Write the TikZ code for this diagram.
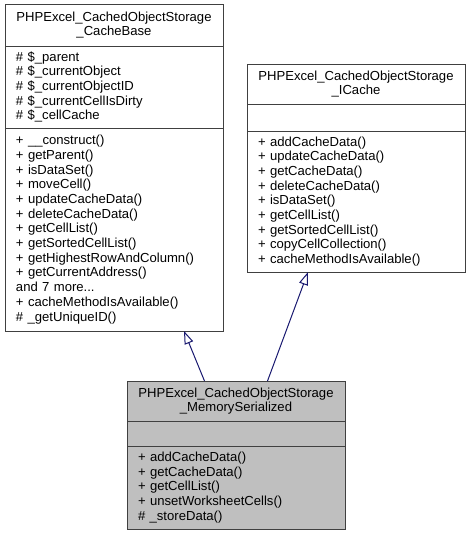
\documentclass[tikz,border=0pt]{standalone}
\usepackage{fontspec}
\usepackage{xcolor}
\usepackage{tikz}
\usetikzlibrary{positioning,arrows.meta}
\newfontfamily\umlfamily{Liberation Sans}
\definecolor{edgeblue}{HTML}{191970}
\definecolor{boxline}{HTML}{404040}
\definecolor{boxgray}{HTML}{BFBFBF}

\begin{document}
\begin{tikzpicture}
	[x=1pt,y=-1pt,
	every node/.style={draw=boxline,line width=1pt,outer sep=0pt,inner xsep=11pt,inner ysep=2pt,
		text width=196pt,font={\umlfamily\fontsize{13.1}{14.7}\selectfont}},
	classtitle/.style={align=center},
	classmembers/.style={align=left},
	current/.style={fill=boxgray},
	realize/.style={draw=edgeblue,line width=1pt,-{Triangle[open,fill=white,length=13pt,width=9pt]}}]
	\useasboundingbox (0,0) rectangle (472,536);
	\node[classtitle,minimum height=42pt,anchor=north west] (cachebase-title) at (5,4)
		{PHPExcel\_CachedObjectStorage\\\_CacheBase};
	\node[classmembers,minimum height=82pt,below=0pt of cachebase-title] (cachebase-attr)
		{\# \$\_parent\\\# \$\_currentObject\\\# \$\_currentObjectID\\\# \$\_currentCellIsDirty\\\# \$\_cellCache};
	\node[classmembers,minimum height=203pt,below=0pt of cachebase-attr] (cachebase-ops)
		{+ \_\_construct()\\+ getParent()\\+ isDataSet()\\+ moveCell()\\+ updateCacheData()\\+ deleteCacheData()\\
		+ getCellList()\\+ getSortedCellList()\\+ getHighestRowAndColumn()\\+ getCurrentAddress()\\and 7 more...\\
		+ cacheMethodIsAvailable()\\\# \_getUniqueID()};
	\node[classtitle,minimum height=40pt,anchor=north west] (icache-title) at (247,64)
		{PHPExcel\_CachedObjectStorage\\\_ICache};
	\node[classmembers,minimum height=27pt,below=0pt of icache-title] (icache-attr) {};
	\node[classmembers,minimum height=141pt,below=0pt of icache-attr] (icache-ops)
		{+ addCacheData()\\+ updateCacheData()\\+ getCacheData()\\+ deleteCacheData()\\+ isDataSet()\\
		+ getCellList()\\+ getSortedCellList()\\+ copyCellCollection()\\+ cacheMethodIsAvailable()};
	\node[classtitle,current,minimum height=40pt,anchor=north west] (memser-title) at (127,381)
		{PHPExcel\_CachedObjectStorage\\\_MemorySerialized};
	\node[classmembers,current,minimum height=25pt,below=0pt of memser-title] (memser-attr) {};
	\node[classmembers,current,minimum height=83pt,below=0pt of memser-attr] (memser-ops)
		{+ addCacheData()\\+ getCacheData()\\+ getCellList()\\+ unsetWorksheetCells()\\\# \_storeData()};
	\draw[realize] ([xshift=-31.5pt]memser-title.north) -- ([xshift=70pt]cachebase-ops.south);
	\draw[realize] ([xshift=31.5pt]memser-title.north) -- ([xshift=-48pt]icache-ops.south);
\end{tikzpicture}
\end{document}
